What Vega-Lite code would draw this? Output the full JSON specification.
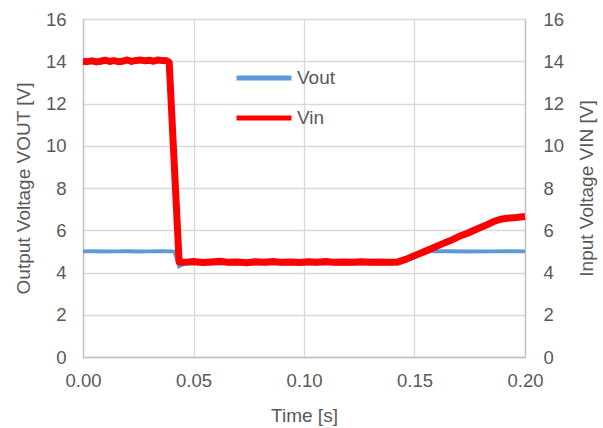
{
  "$schema": "https://vega.github.io/schema/vega-lite/v6.json",
  "autosize": "none",
  "width": 442,
  "height": 338,
  "padding": {"left": 83, "top": 19, "right": 78, "bottom": 71},
  "background": "white",
  "config": {
    "view": {"stroke": null},
    "font": "Liberation Sans",
    "axis": {
      "labelFont": "Liberation Sans",
      "titleFont": "Liberation Sans",
      "labelFontSize": 18.5,
      "titleFontSize": 19,
      "labelColor": "#595959",
      "titleColor": "#595959",
      "titleFontWeight": "normal",
      "gridColor": "#d9d9d9",
      "gridWidth": 1.3,
      "domainColor": "#bfbfbf",
      "domainWidth": 1.3,
      "ticks": false,
      "labelFlush": false
    },
    "legend": {
      "labelFont": "Liberation Sans",
      "labelFontSize": 19,
      "labelColor": "#595959"
    }
  },
  "data": {
    "values": [
      {"t": 0.000, "v": 5.00, "series": "Vout"},
      {"t": 0.005, "v": 5.01, "series": "Vout"},
      {"t": 0.010, "v": 4.99, "series": "Vout"},
      {"t": 0.015, "v": 5.00, "series": "Vout"},
      {"t": 0.020, "v": 5.01, "series": "Vout"},
      {"t": 0.025, "v": 4.99, "series": "Vout"},
      {"t": 0.030, "v": 5.00, "series": "Vout"},
      {"t": 0.035, "v": 5.01, "series": "Vout"},
      {"t": 0.040, "v": 5.00, "series": "Vout"},
      {"t": 0.0415, "v": 4.98, "series": "Vout"},
      {"t": 0.0435, "v": 4.30, "series": "Vout"},
      {"t": 0.046, "v": 4.43, "series": "Vout"},
      {"t": 0.080, "v": 4.43, "series": "Vout"},
      {"t": 0.110, "v": 4.43, "series": "Vout"},
      {"t": 0.1425, "v": 4.43, "series": "Vout"},
      {"t": 0.150, "v": 4.72, "series": "Vout"},
      {"t": 0.154, "v": 4.90, "series": "Vout"},
      {"t": 0.157, "v": 5.00, "series": "Vout"},
      {"t": 0.165, "v": 5.01, "series": "Vout"},
      {"t": 0.175, "v": 4.99, "series": "Vout"},
      {"t": 0.185, "v": 5.00, "series": "Vout"},
      {"t": 0.195, "v": 5.01, "series": "Vout"},
      {"t": 0.200, "v": 5.00, "series": "Vout"},
      {"t": 0.000, "v": 14.00, "series": "Vin"},
      {"t": 0.002, "v": 13.98, "series": "Vin"},
      {"t": 0.004, "v": 14.02, "series": "Vin"},
      {"t": 0.006, "v": 13.97, "series": "Vin"},
      {"t": 0.008, "v": 14.00, "series": "Vin"},
      {"t": 0.010, "v": 14.05, "series": "Vin"},
      {"t": 0.012, "v": 13.99, "series": "Vin"},
      {"t": 0.014, "v": 14.03, "series": "Vin"},
      {"t": 0.016, "v": 13.98, "series": "Vin"},
      {"t": 0.018, "v": 14.00, "series": "Vin"},
      {"t": 0.020, "v": 14.06, "series": "Vin"},
      {"t": 0.022, "v": 13.99, "series": "Vin"},
      {"t": 0.024, "v": 14.04, "series": "Vin"},
      {"t": 0.026, "v": 14.06, "series": "Vin"},
      {"t": 0.028, "v": 14.02, "series": "Vin"},
      {"t": 0.030, "v": 14.05, "series": "Vin"},
      {"t": 0.032, "v": 14.00, "series": "Vin"},
      {"t": 0.034, "v": 14.06, "series": "Vin"},
      {"t": 0.036, "v": 14.03, "series": "Vin"},
      {"t": 0.038, "v": 14.02, "series": "Vin"},
      {"t": 0.039, "v": 13.95, "series": "Vin"},
      {"t": 0.0435, "v": 4.50, "series": "Vin"},
      {"t": 0.046, "v": 4.48, "series": "Vin"},
      {"t": 0.050, "v": 4.52, "series": "Vin"},
      {"t": 0.054, "v": 4.47, "series": "Vin"},
      {"t": 0.058, "v": 4.50, "series": "Vin"},
      {"t": 0.062, "v": 4.53, "series": "Vin"},
      {"t": 0.066, "v": 4.48, "series": "Vin"},
      {"t": 0.070, "v": 4.50, "series": "Vin"},
      {"t": 0.074, "v": 4.46, "series": "Vin"},
      {"t": 0.078, "v": 4.51, "series": "Vin"},
      {"t": 0.082, "v": 4.49, "series": "Vin"},
      {"t": 0.086, "v": 4.52, "series": "Vin"},
      {"t": 0.090, "v": 4.48, "series": "Vin"},
      {"t": 0.094, "v": 4.50, "series": "Vin"},
      {"t": 0.098, "v": 4.47, "series": "Vin"},
      {"t": 0.102, "v": 4.51, "series": "Vin"},
      {"t": 0.106, "v": 4.49, "series": "Vin"},
      {"t": 0.110, "v": 4.52, "series": "Vin"},
      {"t": 0.114, "v": 4.48, "series": "Vin"},
      {"t": 0.118, "v": 4.50, "series": "Vin"},
      {"t": 0.122, "v": 4.49, "series": "Vin"},
      {"t": 0.126, "v": 4.51, "series": "Vin"},
      {"t": 0.130, "v": 4.48, "series": "Vin"},
      {"t": 0.134, "v": 4.50, "series": "Vin"},
      {"t": 0.138, "v": 4.49, "series": "Vin"},
      {"t": 0.1425, "v": 4.50, "series": "Vin"},
      {"t": 0.146, "v": 4.62, "series": "Vin"},
      {"t": 0.150, "v": 4.80, "series": "Vin"},
      {"t": 0.154, "v": 4.97, "series": "Vin"},
      {"t": 0.158, "v": 5.15, "series": "Vin"},
      {"t": 0.162, "v": 5.33, "series": "Vin"},
      {"t": 0.166, "v": 5.50, "series": "Vin"},
      {"t": 0.170, "v": 5.70, "series": "Vin"},
      {"t": 0.174, "v": 5.86, "series": "Vin"},
      {"t": 0.178, "v": 6.05, "series": "Vin"},
      {"t": 0.182, "v": 6.22, "series": "Vin"},
      {"t": 0.186, "v": 6.42, "series": "Vin"},
      {"t": 0.189, "v": 6.52, "series": "Vin"},
      {"t": 0.192, "v": 6.57, "series": "Vin"},
      {"t": 0.196, "v": 6.60, "series": "Vin"},
      {"t": 0.200, "v": 6.65, "series": "Vin"}
    ]
  },
  "encoding": {
    "x": {
      "field": "t",
      "type": "quantitative",
      "scale": {"domain": [0, 0.2], "nice": false},
      "axis": {
        "title": "Time [s]",
        "values": [0, 0.05, 0.1, 0.15, 0.2],
        "format": ".2f",
        "labelPadding": 14,
        "titlePadding": 17,
        "grid": true
      }
    }
  },
  "layer": [
    {
      "transform": [{"filter": "datum.series === 'Vout'"}],
      "mark": {"type": "line", "strokeWidth": 4, "strokeCap": "butt"},
      "encoding": {
        "y": {
          "field": "v",
          "type": "quantitative",
          "scale": {"domain": [0, 16], "nice": false},
          "axis": {
            "title": "Output Voltage VOUT [V]",
            "orient": "left",
            "values": [0, 2, 4, 6, 8, 10, 12, 14, 16],
            "labelPadding": 17,
            "titlePadding": 12,
            "grid": true
          }
        },
        "color": {
          "field": "series",
          "type": "nominal",
          "scale": {"domain": ["Vout", "Vin"], "range": ["#5b9bd5", "#ff0000"]},
          "legend": {
            "title": null,
            "orient": "none",
            "legendX": 151,
            "legendY": 29,
            "rowPadding": -3,
            "symbolType": "stroke",
            "symbolSize": 3025,
            "symbolStrokeWidth": 5,
            "labelOffset": 3
          }
        }
      }
    },
    {
      "transform": [{"filter": "datum.series === 'Vin'"}],
      "mark": {"type": "line", "strokeWidth": 7, "strokeJoin": "round"},
      "encoding": {
        "y": {
          "field": "v",
          "type": "quantitative",
          "scale": {"domain": [0, 16], "nice": false},
          "axis": {
            "title": "Input Voltage VIN [V]",
            "orient": "right",
            "values": [0, 2, 4, 6, 8, 10, 12, 14, 16],
            "labelPadding": 18,
            "titlePadding": 14,
            "titleAngle": 270,
            "titleBaseline": "top",
            "grid": false
          }
        },
        "color": {"field": "series", "type": "nominal"}
      }
    }
  ],
  "resolve": {"scale": {"y": "independent"}}
}
